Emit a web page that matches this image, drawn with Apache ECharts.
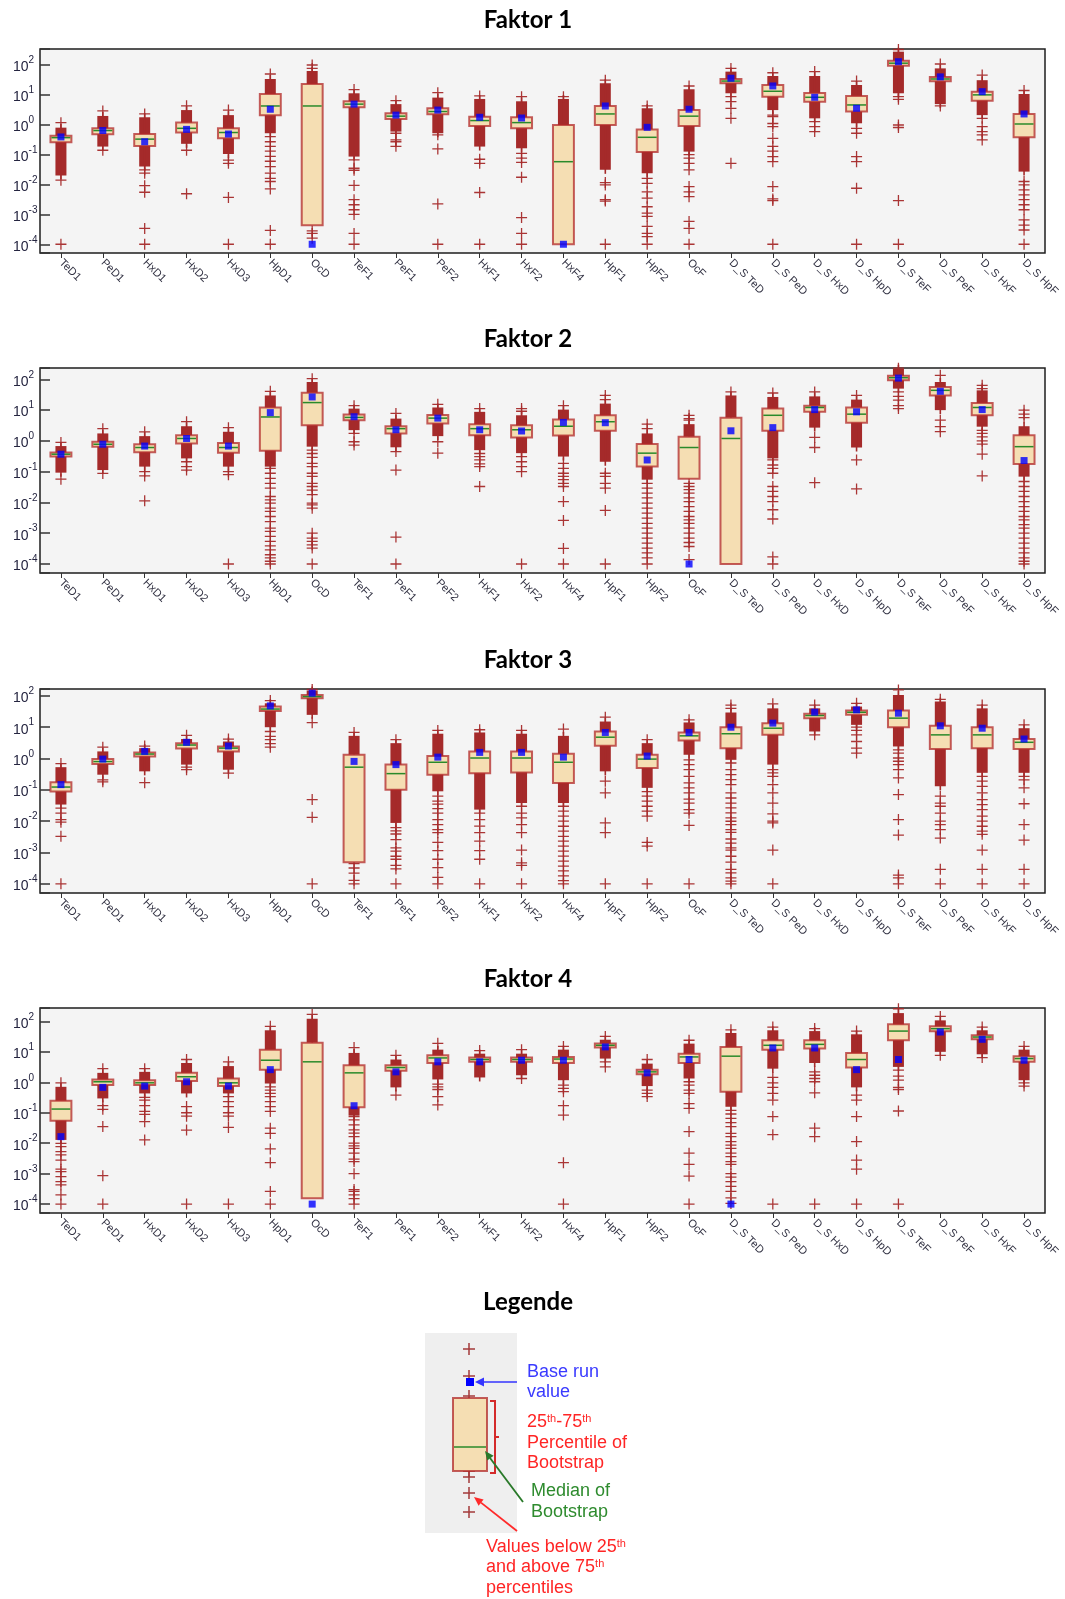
<!DOCTYPE html>
<html><head><meta charset="utf-8">
<script src="https://cdn.jsdelivr.net/npm/echarts@6/dist/echarts.min.js"></script>
<style>html,body{margin:0;padding:0;background:#fff}#c{width:1065px;height:1599px}</style>
</head><body><div id="c"></div>
<script>
const categories = ["TeD1","PeD1","HxD1","HxD2","HxD3","HpD1","OcD","TeF1","PeF1","PeF2","HxF1","HxF2","HxF4","HpF1","HpF2","OcF","D_S TeD","D_S PeD","D_S HxD","D_S HpD","D_S TeF","D_S PeF","D_S HxF","D_S HpF"];
const titles = ["Faktor 1","Faktor 2","Faktor 3","Faktor 4"];
const yTickValues = [1e-4,1e-3,1e-2,1e-1,1,10,100];
const yMin = 5.1e-5;
const yMaxes = [343, 234, 166, 275];

// ---- Faktor 1 ----
const f1Q1 = [0.26,0.48,0.195,0.55,0.35,2.07,0.00043,3.84,1.56,2.24,0.91,0.76,0.0001,0.98,0.123,0.91,24.4,8.7,5.9,2.75,95,28.5,6.4,0.38];
const f1Med = [0.37,0.64,0.33,0.76,0.55,4.25,4.25,4.9,1.94,2.77,1.38,1.18,0.058,2.3,0.38,1.94,29,13.2,8.3,4.6,115,34,10,1.06];
const f1Q3 = [0.43,0.76,0.49,1.18,0.76,10.7,23,6.1,2.42,3.56,1.87,1.78,0.98,4.25,0.70,3.1,34,21.4,11.6,9.2,140,40,12.8,2.3];
const f1Base = [0.39,0.64,0.27,0.70,0.49,3.3,0.0001,4.9,2.1,3.1,1.78,1.68,0.0001,4.25,0.82,3.3,36,19.9,8.3,3.56,129,40,12.8,2.3];
const f1DenseLo = [0.02,0.186,0.04,0.23,0.105,0.52,23,0.086,0.59,0.52,0.186,0.163,0.98,0.031,0.0238,0.126,11.3,3.1,1.64,1.12,11.3,4.9,2.1,0.027];
const f1DenseHi = [0.8,1.97,1.78,3.1,2.1,34,63,11.3,4.9,8.1,7.3,6.1,7.3,24.4,3.56,15.4,60,42.8,42.8,21.4,279,77,31,10.7];
const f1Out = [
 [1.17,0.014,0.0001],
 [2.9,0.14],
 [2.3,0.031,0.024,0.0091,0.0055,0.00034,0.0001],
 [4.3,0.14,0.0049],
 [3.1,0.065,0.051,0.0037,0.0001],
 [50,0.4,0.27,0.19,0.13,0.088,0.06,0.04,0.024,0.016,0.0126,0.0071,0.00029,0.0001],
 [100,77,0.00028,0.00023,0.00016],
 [15,0.067,0.035,0.03,0.0093,0.0031,0.0021,0.00143,0.001,0.00023,0.0001],
 [6.4,0.52,0.31,0.27,0.19],
 [11.8,0.46,0.155,0.00224,0.0001],
 [9.2,0.07,0.051,0.0054,0.0001],
 [8.7,0.11,0.076,0.055,0.0175,0.00078,0.00023,0.0001],
 [8.7],
 [31,0.0116,0.0097,0.0031,0.0028,0.0001],
 [4.25,0.016,0.011,0.0057,0.0035,0.0018,0.0011,0.00086,0.0004,0.00023,0.00018,0.0001],
 [19.8,0.1,0.077,0.051,0.031,0.0085,0.0057,0.0039,0.00058,0.00034,0.0001],
 [77,8.7,5.9,3.56,1.64,0.051],
 [55,2.1,1.86,1.1,0.86,0.35,0.19,0.13,0.086,0.058,0.0085,0.0033,0.0029,0.0001],
 [60,1.27,0.86,0.59],
 [29,0.76,0.52,0.086,0.058,0.0075,0.0001],
 [330,8.7,7.1,0.98,0.81,0.0029,0.0001],
 [108,4.25],
 [46,1.64,0.86,0.59,0.46,0.31],
 [14,0.0126,0.0097,0.0066,0.0045,0.0031,0.0021,0.00143,0.00066,0.00044,0.0003,0.0001]
];

// ---- Faktor 2 ----
const f2Q1 = [0.31,0.65,0.43,0.83,0.41,0.48,3.2,4.7,1.75,3.7,1.54,1.3,1.5,2.13,0.146,0.059,0.0001,2.13,8.8,3.9,93,30,6.8,0.177];
const f2Med = [0.37,0.78,0.61,1.2,0.61,6.0,17.6,5.8,2.5,5.5,2.5,2.3,3.0,4.2,0.4,0.61,1.2,6.8,12.2,7.4,113,44,12.2,0.65];
const f2Q3 = [0.42,0.94,0.78,1.54,0.86,12.1,37,7.2,3.0,7.0,3.5,3.2,5.0,6.8,0.79,1.36,5.7,11.2,14,12.2,131,56.5,17.1,1.54];
const f2Base = [0.37,0.78,0.68,1.2,0.68,8.3,26.8,6.1,2.3,5.5,2.3,2.1,4.0,3.9,0.24,0.0001,2.13,2.7,10.4,8.8,110,41,10.4,0.23];
const f2DenseLo = [0.093,0.113,0.146,0.27,0.146,0.146,0.65,2.24,0.62,1.43,0.5,0.4,0.31,0.21,0.055,1.36,5.7,0.27,2.7,0.61,50,10,2.9,0.069];
const f2DenseHi = [0.68,1.75,1.43,3.0,1.98,30,82,11.2,5.3,12.2,8.8,6.8,10.4,16.3,1.75,3.5,30,26.8,28,22,221,82,44,3.0];
const f2Out = [
 [0.89,0.057],
 [2.5,0.088],
 [1.98,0.1,0.073,0.0113],
 [4.2,0.21,0.146,0.113],
 [2.7,0.1,0.08,0.0001],
 [41,0.129,0.089,0.061,0.042,0.029,0.0156,0.0121,0.0095,0.0065,0.0051,0.0035,0.0024,0.00147,0.00115,0.00079,0.00054,0.00039,0.00029,0.0002,0.000157,0.000123,0.0001],
 [105,0.5,0.39,0.29,0.187,0.146,0.089,0.07,0.042,0.033,0.025,0.018,0.0095,0.0084,0.0065,0.001,0.00069,0.00054,0.00042,0.00033,0.0001],
 [14,1.75,0.94,0.73],
 [7.8,0.45,0.113,0.00075,0.0001],
 [15.5,0.94,0.4],
 [11.2,0.39,0.31,0.24,0.18,0.146,0.033],
 [11.2,9.2,0.31,0.21,0.146,0.1,0.0001],
 [14,0.187,0.129,0.089,0.07,0.055,0.042,0.033,0.0107,0.0026,0.00032,0.0001],
 [30,22,0.089,0.07,0.042,0.029,0.0055,0.0001],
 [3.5,2.5,0.042,0.029,0.02,0.014,0.0095,0.0065,0.0045,0.0031,0.0021,0.00147,0.001,0.00069,0.00048,0.00033,0.00023,0.000157,0.0001],
 [6.8,5.3,4.7,0.042,0.033,0.026,0.02,0.014,0.0107,0.0073,0.0051,0.0035,0.0027,0.0021,0.00147,0.001,0.00069,0.0005,0.00037,0.000139],
 [39],
 [36,0.24,0.165,0.129,0.089,0.033,0.023,0.0156,0.0107,0.0058,0.0029,0.00017,0.0001],
 [39,1.3,0.61,0.044],
 [30,0.24,0.0275],
 [230,39,28,21,14,11.2],
 [135,4.7,2.9,2.0],
 [64,50,2.2,1.75,1.36,1.0,0.79,0.37,0.073],
 [10,7.4,5.7,0.048,0.033,0.023,0.0156,0.0107,0.0073,0.0051,0.0035,0.0027,0.0019,0.00147,0.001,0.00069,0.00048,0.00033,0.00023,0.000157,0.000123,0.0001]
];

// ---- Faktor 3 ----
const f3Q1 = [0.088,0.67,1.17,2.1,1.69,33,84,0.00049,0.101,0.305,0.34,0.36,0.166,2.56,0.5,3.78,2.15,5.7,19.5,24.8,10,2.0,2.15,2.0];
const f3Med = [0.123,0.80,1.39,2.7,2.15,38,95,0.53,0.33,0.76,1.04,1.04,0.76,4.8,0.96,5.3,6.2,9.3,23.6,30,19.5,5.7,5.7,3.3];
const f3Q3 = [0.174,0.96,1.57,3.1,2.43,45.7,107,1.32,0.64,1.2,1.69,1.69,1.42,7.3,1.32,6.8,10,13.5,26.7,34,34,11.1,10,4.2];
const f3Base = [0.147,0.96,1.69,3.3,2.5,48,122,0.81,0.64,1.11,1.57,1.57,1.11,6.8,1.2,6.8,10,13.5,30.2,35.8,28,11.1,9.3,4.2];
const f3DenseLo = [0.034,0.305,0.39,0.64,0.44,10,24.8,1.32,0.0088,0.09,0.0234,0.038,0.038,0.39,0.116,1.32,0.91,0.64,7.3,11.9,2.43,0.13,0.35,0.35];
const f3DenseHi = [0.53,1.69,2.15,4.2,3.5,58,148,5.3,3.1,6.2,6.8,6.2,5.3,15.2,3.1,14.2,29.5,40,40,45.7,107,66,40,9.3];
const f3Out = [
 [0.69,0.026,0.018,0.0113,0.0093,0.0033,0.0001],
 [2.3,0.21,0.18],
 [2.5,0.17],
 [5.5,0.53,0.44],
 [4.2,0.34],
 [71,7.3,5.1,4.0,3.0,2.3],
 [160,14,0.049,0.0133,0.0001],
 [6.8,0.00044,0.00032,0.00022,0.00013,0.0001],
 [4.0,0.0062,0.0049,0.0039,0.0026,0.0014,0.0011,0.00076,0.00061,0.00039,0.0003,0.0001],
 [7.9,0.063,0.044,0.035,0.025,0.018,0.0113,0.0078,0.0054,0.0043,0.0021,0.00114,0.00061,0.00033,0.00016,0.0001],
 [8.3,0.018,0.0113,0.007,0.0043,0.0023,0.00114,0.00061,0.0001],
 [7.9,0.03,0.018,0.0127,0.0078,0.0043,0.0012,0.00047,0.00039,0.0001],
 [8.7,0.03,0.0208,0.0144,0.01,0.0069,0.0048,0.0033,0.0023,0.0016,0.0011,0.00077,0.00053,0.00037,0.00026,0.00018,0.000126,0.0001],
 [21,0.19,0.08,0.0088,0.0043,0.0001],
 [4.0,0.088,0.063,0.044,0.03,0.021,0.0144,0.0021,0.0016,0.0001],
 [17.2,0.91,0.64,0.44,0.27,0.166,0.116,0.08,0.051,0.038,0.0234,0.018,0.0073,0.0001],
 [51,40,0.72,0.44,0.305,0.211,0.147,0.08,0.055,0.038,0.0265,0.0183,0.0127,0.00995,0.0078,0.0054,0.0044,0.0027,0.002,0.00141,0.00119,0.00076,0.00049,0.00029,0.000225,0.000156,0.000122,0.0001],
 [55.7,0.44,0.35,0.27,0.147,0.08,0.038,0.017,0.01,0.0088,0.0012,0.0001],
 [51,5.7],
 [58,10,7.9,5.7,3.5,2.15,1.5],
 [155,1.9,1.5,1.04,0.82,0.64,0.44,0.24,0.071,0.0113,0.0036,0.00019,0.000156,0.0001],
 [78,0.063,0.038,0.03,0.018,0.01,0.0078,0.0054,0.0029,0.00029,0.0001],
 [51,0.27,0.19,0.13,0.08,0.049,0.034,0.0234,0.0144,0.01,0.0069,0.0048,0.0038,0.0012,0.00029,0.0001],
 [11.9,0.27,0.21,0.116,0.036,0.0078,0.0025,0.00029,0.0001]
];

// ---- Faktor 4 ----
const f4Q1 = [0.055,0.81,0.81,1.11,0.75,2.6,0.000155,0.15,2.37,4.3,4.7,4.7,4.3,13.8,1.85,4.3,0.49,11.8,12.8,3.05,23.9,47,25.8,4.7];
const f4Med = [0.132,1.04,0.96,1.52,0.96,5.3,4.7,2.04,3.05,6.3,5.6,5.6,5.8,16.4,2.2,6.8,7.2,16.4,17.6,5.6,48,57.5,30.6,6.0];
const f4Q3 = [0.248,1.24,1.17,2.04,1.33,11.8,20,3.63,3.63,7.7,6.5,6.5,6.8,18.6,2.6,8.7,14.5,23.9,23.9,9.2,80,69,35,7.2];
const f4Base = [0.0164,0.68,0.75,1.04,0.75,2.6,0.0001,0.17,2.2,4.7,4.7,5.3,5.3,14.5,2.04,5.6,0.0001,13.4,13.4,2.6,5.6,44.8,25.8,5.3];
const f4DenseLo = [0.0128,0.295,0.43,0.43,0.43,0.91,20,0.08,0.68,1.24,1.44,1.7,1.17,6.0,0.75,1.33,0.157,2.8,4.3,0.68,3.2,10,8.3,1.17];
const f4DenseHi = [0.71,2.04,2.2,4.3,3.4,51,122,9.2,5.6,11.8,8.7,8.7,11.8,25,4.1,18.6,41.5,51,48,37.6,187,108,51,11.8];
const f4Out = [
 [0.96,0.0099,0.0077,0.0053,0.0041,0.0028,0.0014,0.00117,0.0008,0.00055,0.00043,0.0002,0.0001],
 [2.8,0.17,0.13,0.035,0.00086,0.0001],
 [2.8,0.32,0.26,0.17,0.11,0.088,0.051,0.0128],
 [5.6,0.16,0.1,0.077,0.027,0.0001],
 [4.7,0.34,0.23,0.16,0.1,0.077,0.033,0.0001],
 [69,0.71,0.55,0.43,0.34,0.23,0.16,0.11,0.031,0.021,0.0065,0.0023,0.00026,0.0001],
 [169],
 [13.8,0.075,0.058,0.04,0.0275,0.0213,0.0165,0.01,0.0082,0.0068,0.0047,0.003,0.0025,0.001,0.0003,0.00026,0.0002,0.00015,0.0001],
 [7.7,0.38],
 [19,0.87,0.71,0.58,0.34,0.18],
 [11],
 [11.8,1.33],
 [15,0.81,0.63,0.49,0.17,0.084,0.0023,0.0001],
 [32,4.7,3.2],
 [5.6,0.55,0.43,0.34],
 [24,1.04,0.81,0.55,0.43,0.2,0.14,0.024,0.0047,0.002,0.00083,0.0001],
 [53,0.12,0.091,0.065,0.047,0.035,0.021,0.0165,0.0113,0.0087,0.0068,0.0047,0.0036,0.0025,0.002,0.001,0.00077,0.00055,0.00038,0.00026,0.00016,0.000105],
 [65,1.44,0.96,0.68,0.43,0.26,0.075,0.019,0.0001],
 [58,2.2,1.7,1.33,1.04,0.45,0.031,0.0164,0.0001],
 [48,0.38,0.26,0.075,0.0113,0.0028,0.0014,0.0001],
 [260,2.5,1.6,1.17,0.68,0.58,0.114,0.0001],
 [145,7.7],
 [65,6.5],
 [15,0.96,0.75]
];

const panels = [
 {q1:f1Q1, med:f1Med, q3:f1Q3, base:f1Base, lo:f1DenseLo, hi:f1DenseHi, out:f1Out},
 {q1:f2Q1, med:f2Med, q3:f2Q3, base:f2Base, lo:f2DenseLo, hi:f2DenseHi, out:f2Out},
 {q1:f3Q1, med:f3Med, q3:f3Q3, base:f3Base, lo:f3DenseLo, hi:f3DenseHi, out:f3Out},
 {q1:f4Q1, med:f4Med, q3:f4Q3, base:f4Base, lo:f4DenseLo, hi:f4DenseHi, out:f4Out}
];
const layout = [ {top:49, height:204, titleY:20}, {top:368, height:205, titleY:339}, {top:689, height:204, titleY:660}, {top:1008, height:205, titleY:979} ];

const BROWN = '#a52a2a';
const crossPath = 'path://M0,5.3H12V6.7H0Z M5.3,0H6.7V12H5.3Z';

function yFmt(v){
  const e = Math.log10(v), r = Math.round(e);
  if (Math.abs(e - r) > 0.01) return '';
  return '{a|10}{b|' + r + '}';
}

const grid=[], xAxis=[], yAxis=[], series=[], graphic=[];
panels.forEach((p,k)=>{
  const L = layout[k];
  grid.push({left:40, right:20, top:L.top, height:L.height, show:true, backgroundColor:'#f4f4f4', borderColor:'#1e1e1e', borderWidth:1.5});
  xAxis.push({type:'category', gridIndex:k, data:categories, boundaryGap:true,
    axisLine:{show:false}, splitLine:{show:false},
    axisTick:{show:true, alignWithLabel:true, length:5, lineStyle:{color:'#333', width:1}},
    axisLabel:{interval:0, rotate:-45, fontSize:11, color:'#333344', margin:8, fontFamily:'Liberation Sans'}});
  yAxis.push({type:'log', logBase:10, gridIndex:k, min:yMin, max:yMaxes[k],
    axisLine:{show:false}, splitLine:{show:false}, minorTick:{show:false},
    axisTick:{show:true, inside:true, length:10, lineStyle:{color:'#333', width:1.5}},
    axisLabel:{align:'left', margin:27, formatter:yFmt,
      rich:{a:{fontSize:14, color:'#252540', fontFamily:'Liberation Sans', lineHeight:19, verticalAlign:'bottom'},
            b:{fontSize:10, color:'#252540', fontFamily:'Liberation Sans', lineHeight:19, verticalAlign:'top'}}}});

  // dense clusters of '+' markers
  series.push({type:'custom', xAxisIndex:k, yAxisIndex:k, z:2, silent:true,
    data: categories.map((c,i)=>[i, p.lo[i], p.hi[i]]),
    encode:{x:0, y:[1,2]},
    renderItem:(params, api)=>{
      const i = api.value(0);
      const a = api.coord([i, api.value(2)]);
      const b = api.coord([i, api.value(1)]);
      const w = 11;
      return {type:'group', children:[
        {type:'rect', shape:{x:a[0]-w/2, y:a[1], width:w, height:b[1]-a[1]}, style:{fill:BROWN}},
        {type:'rect', shape:{x:a[0]-0.8, y:a[1]-4, width:1.6, height:b[1]-a[1]+8}, style:{fill:BROWN}}
      ]};
    }});
  // individual outliers
  const pts=[];
  p.out.forEach((arr,i)=>arr.forEach(v=>pts.push([i,v])));
  series.push({type:'scatter', xAxisIndex:k, yAxisIndex:k, z:3, silent:true,
    symbol:crossPath, symbolSize:11, itemStyle:{color:BROWN, opacity:0.95}, data:pts});
  // boxes
  series.push({type:'custom', xAxisIndex:k, yAxisIndex:k, z:4, silent:true,
    data: categories.map((c,i)=>[i, p.q1[i], p.med[i], p.q3[i]]),
    encode:{x:0, y:[1,2,3]},
    renderItem:(params, api)=>{
      const i = api.value(0);
      const lo = api.coord([i, api.value(1)]);
      const md = api.coord([i, api.value(2)]);
      const hi = api.coord([i, api.value(3)]);
      const w = api.size([1,1])[0]*0.5;
      return {type:'group', children:[
        {type:'rect', shape:{x:lo[0]-w/2, y:hi[1], width:w, height:Math.max(lo[1]-hi[1],1)},
          style:{fill:'#f5deb3', stroke:'rgba(178,40,40,0.75)', lineWidth:2}},
        {type:'line', shape:{x1:lo[0]-w/2+1, y1:md[1], x2:lo[0]+w/2-1, y2:md[1]},
          style:{stroke:'#2a8a2a', lineWidth:1.5}}
      ]};
    }});
  // base run value
  series.push({type:'scatter', xAxisIndex:k, yAxisIndex:k, z:5, silent:true,
    symbol:'rect', symbolSize:7, itemStyle:{color:'#0000ff'},
    data: p.base.map((v,i)=>[i,v])});

  graphic.push({type:'text', x:528, y:L.titleY, z:10,
    style:{text:titles[k], align:'center', verticalAlign:'middle', font:'bold 24px Lato', fill:'#000'}});
});

// ---- legend illustration ----
const legendTitle = 'Legende';
graphic.push({type:'text', x:528, y:1302, style:{text:legendTitle, align:'center', verticalAlign:'middle', font:'bold 24px Lato', fill:'#000'}});
graphic.push({type:'rect', shape:{x:425, y:1333, width:92, height:200}, style:{fill:'#efefef'}});
const crossYs = [1349, 1376, 1396, 1471, 1477, 1493, 1512];
crossYs.forEach(cy=>{
  graphic.push({type:'rect', shape:{x:463, y:cy-0.75, width:12, height:1.5}, style:{fill:'#a33a3a'}});
  graphic.push({type:'rect', shape:{x:468.25, y:cy-6, width:1.5, height:12}, style:{fill:'#a33a3a'}});
});
graphic.push({type:'rect', shape:{x:453, y:1398, width:34, height:73}, style:{fill:'#f5deb3', stroke:'rgba(178,40,40,0.75)', lineWidth:2}});
graphic.push({type:'line', shape:{x1:454, y1:1447, x2:486, y2:1447}, style:{stroke:'#2a8a2a', lineWidth:1.5}});
graphic.push({type:'rect', shape:{x:466, y:1378, width:8, height:8}, style:{fill:'#0000ff'}});
// blue arrow
graphic.push({type:'line', shape:{x1:517, y1:1382, x2:482, y2:1382}, style:{stroke:'#3535ff', lineWidth:1.5}});
graphic.push({type:'polygon', shape:{points:[[475,1382],[484,1377.5],[484,1386.5]]}, style:{fill:'#3535ff'}});
// red bracket
graphic.push({type:'polyline', shape:{points:[[490,1401],[495,1401],[495,1473],[490,1473]]}, style:{stroke:'#d42a2a', lineWidth:2, fill:null}});
graphic.push({type:'line', shape:{x1:495, y1:1437, x2:499, y2:1437}, style:{stroke:'#d42a2a', lineWidth:2}});
// green arrow
graphic.push({type:'line', shape:{x1:523, y1:1502, x2:490, y2:1458}, style:{stroke:'#2a7a2a', lineWidth:1.8}});
graphic.push({type:'polygon', shape:{points:[[485,1451],[493.6,1455.8],[487.2,1460.6]]}, style:{fill:'#2a7a2a'}});
// red arrow
graphic.push({type:'line', shape:{x1:517, y1:1531, x2:481, y2:1502.6}, style:{stroke:'#ff2a2a', lineWidth:1.8}});
graphic.push({type:'polygon', shape:{points:[[474,1497],[483.6,1499.4],[478.6,1505.7]]}, style:{fill:'#ff2a2a'}});

function legText(txt, x, y, color){
  graphic.push({type:'text', x:x, y:y, style:{text:txt, align:'left', verticalAlign:'middle', fill:color,
    fontSize:18, fontFamily:'Liberation Sans',
    rich:{s:{fontSize:11, fill:color, fontFamily:'Liberation Sans', verticalAlign:'top'}}}});
}
const BLUE_T='#3a3aff', RED_T='#ff2525', GREEN_T='#2e8b2e';
legText('Base run', 527, 1372, BLUE_T);
legText('value', 527, 1392, BLUE_T);
legText('25{s|th}-75{s|th}', 527, 1422, RED_T);
legText('Percentile of', 527, 1443, RED_T);
legText('Bootstrap', 527, 1463, RED_T);
legText('Median of', 531, 1491, GREEN_T);
legText('Bootstrap', 531, 1512, GREEN_T);
legText('Values below 25{s|th}', 486, 1547, RED_T);
legText('and above 75{s|th}', 486, 1567, RED_T);
legText('percentiles', 486, 1588, RED_T);

const chart = echarts.init(document.getElementById('c'), null, {renderer:'canvas'});
chart.setOption({animation:false, backgroundColor:'#fff', grid, xAxis, yAxis, series, graphic});
</script></body></html>
